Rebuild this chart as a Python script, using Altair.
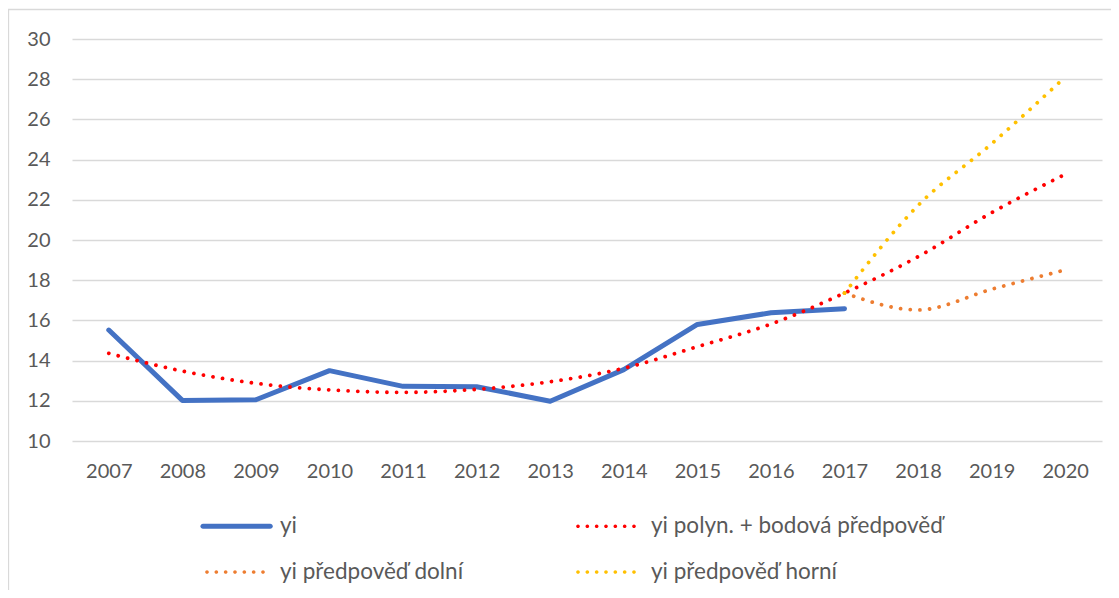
import altair as alt
import pandas as pd

# ---- data ----
years = ["2007", "2008", "2009", "2010", "2011", "2012", "2013",
         "2014", "2015", "2016", "2017", "2018", "2019", "2020"]
yi_years = ["2007", "2008", "2009", "2010", "2011", "2012", "2013",
            "2014", "2015", "2016", "2017"]
yi_values = [15.52, 12.02, 12.05, 13.50, 12.72, 12.70, 11.98, 13.55, 15.80, 16.38, 16.58]
trend_values = [14.36, 13.48, 12.87, 12.54, 12.42, 12.57, 12.95, 13.62, 14.69,
                15.82, 17.36, 19.17, 21.36, 23.27]
fc_years = ["2017", "2018", "2019", "2020"]
lower_values = [17.36, 16.52, 17.55, 18.51]
upper_values = [17.36, 21.72, 24.79, 28.11]
series_names = ["yi", "yi polyn. + bodová předpověď", "yi předpověď dolní", "yi předpověď horní"]
series_colors = ["#4472C4", "#FF0000", "#ED7D31", "#FFC000"]
y_ticks = [10, 12, 14, 16, 18, 20, 22, 24, 26, 28, 30]

FONT = "Lato"
TEXT = "#595959"
GRID = "#d9d9d9"

df_yi = pd.DataFrame({"rok": yi_years, "v": yi_values})
df_tr = pd.DataFrame({"rok": years, "v": trend_values})
df_lo = pd.DataFrame({"rok": fc_years, "v": lower_values})
df_up = pd.DataFrame({"rok": fc_years, "v": upper_values})
df_leg = pd.DataFrame({"s": series_names, "rok": ["2007"] * 4, "v": [10] * 4})

x_enc = alt.X("rok:O",
              scale=alt.Scale(type="point", domain=years, padding=0.5),
              axis=alt.Axis(title=None, labelAngle=0, ticks=False, domain=False,
                            labelPadding=20, labelFont=FONT, labelFontSize=20,
                            labelColor=TEXT))
y_enc = alt.Y("v:Q",
              scale=alt.Scale(domain=[10, 30], nice=False, zero=False),
              axis=alt.Axis(title=None, values=y_ticks, ticks=False, domain=False,
                            grid=True, gridColor=GRID, gridWidth=1.3,
                            labelPadding=22, labelFont=FONT, labelFontSize=20,
                            labelColor=TEXT))

DOT = [0.01, 9.7]

line_yi = alt.Chart(df_yi).mark_line(
    color=series_colors[0], strokeWidth=5, strokeCap="round", strokeJoin="round"
).encode(x=x_enc, y=y_enc)

line_tr = alt.Chart(df_tr).mark_line(
    color=series_colors[1], strokeWidth=3.8, strokeDash=DOT, strokeCap="round",
    interpolate="monotone"
).encode(x=x_enc, y=y_enc)

line_lo = alt.Chart(df_lo).mark_line(
    color=series_colors[2], strokeWidth=3.8, strokeDash=DOT, strokeCap="round",
    interpolate="monotone"
).encode(x=x_enc, y=y_enc)

line_up = alt.Chart(df_up).mark_line(
    color=series_colors[3], strokeWidth=3.8, strokeDash=DOT, strokeCap="round",
    interpolate="monotone"
).encode(x=x_enc, y=y_enc)

# legend symbol shapes (filled custom paths in the unit square, scaled by sqrt(size)/2)
solid_path = "M-2.0,-0.16L2.2,-0.16A0.16,0.16 0 0,1 2.2,0.16L-2.0,0.16A0.16,0.16 0 0,1 -2.0,-0.16Z"
r = 0.115
dots = []
for i in range(7):
    cx = -1.75 + i * 3.5 / 6
    dots.append(f"M{cx - r:.3f},0a{r},{r} 0 1,0 {2*r:.3f},0a{r},{r} 0 1,0 {-2*r:.3f},0Z")
dots_path = "".join(dots)

legend_layer = alt.Chart(df_leg).mark_point(filled=True, opacity=1).encode(
    x=x_enc, y=y_enc,
    color=alt.Color("s:N", scale=alt.Scale(domain=series_names, range=series_colors),
                    legend=alt.Legend(title=None, orient="none", legendX=146, legendY=470,
                                      direction="horizontal",
                                      columns=2, columnPadding=110, rowPadding=17,
                                      symbolSize=1024, labelOffset=28, labelFont=FONT,
                                      labelFontSize=22.5, labelColor=TEXT, padding=0,
                                      labelLimit=500, symbolOpacity=1)),
    shape=alt.Shape("s:N", scale=alt.Scale(domain=series_names,
                                           range=[solid_path, dots_path, dots_path, dots_path])),
).transform_filter("false")

border = alt.Chart(pd.DataFrame({"a": [0]})).mark_rect(
    fillOpacity=0, stroke=GRID, strokeWidth=1.3
).encode(x=alt.value(-63.5), x2=alt.value(1200), y=alt.value(-29.5), y2=alt.value(700))

chart = alt.layer(border, line_yi, line_tr, line_lo, line_up, legend_layer).properties(
    width=1030, height=402,
    autosize=alt.AutoSizeParams(type="none"),
    padding={"left": 64, "top": 31, "right": 9, "bottom": 149},
    background="white",
).configure_view(stroke=None)

chart.save("out.html", embed_options={"renderer": "svg", "actions": False})
